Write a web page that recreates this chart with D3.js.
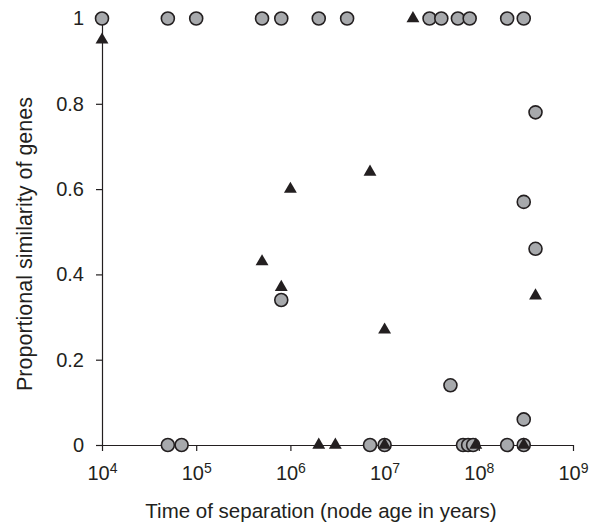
<!DOCTYPE html>
<html lang="en">
<head>
  <meta charset="UTF-8">
  <title>Proportional similarity of genes</title>
  <style>
    body { margin: 0; background: #fff; }
    text { font-family: "Liberation Sans", Arial, sans-serif; fill: #231f20; }
  </style>
</head>
<body>
  <svg id="chart" width="598" height="528"></svg>
  <script src="https://d3js.org/d3.v7.min.js"></script>
  <script>
    // Circles (grey) - node age in years, similarity
    const circleYears = [1e4, 5e4, 1e5, 5e5, 8e5, 2e6, 4e6, 3e7, 4e7, 6e7, 8e7, 2e8, 3e8,
      8e5, 5e7, 3e8, 3e8, 4e8, 4e8,
      5e4, 7e4, 7e6, 1e7, 6.8e7, 7.7e7, 8.7e7, 2e8, 3e8]
    const circleSim = [1, 1, 1, 1, 1, 1, 1, 1, 1, 1, 1, 1, 1,
      0.34, 0.14, 0.06, 0.57, 0.78, 0.46,
      0, 0, 0, 0, 0, 0, 0, 0, 0]

    // Triangles (black)
    const triangleYears = [1e4, 5e5, 8e5, 1e6, 7e6, 1e7, 2e7, 4e8,
      2e6, 3e6, 1e7, 9.3e7, 3e8]
    const triangleSim = [0.95, 0.43, 0.37, 0.60, 0.64, 0.27, 1, 0.35,
      0, 0, 0, 0, 0]

    const xTicks = [1e4, 1e5, 1e6, 1e7, 1e8, 1e9]
    const yTicks = [0, 0.2, 0.4, 0.6, 0.8, 1]

    const margin = { top: 18.5, right: 25, bottom: 83, left: 102 }
    const width = 598 - margin.left - margin.right
    const height = 528 - margin.top - margin.bottom
    const ink = '#231f20'

    const svg = d3.select('#chart')
    const g = svg.append('g').attr('transform', `translate(${margin.left}, ${margin.top})`)

    const x = d3.scaleLog().domain([1e4, 1e9]).range([0, width])
    const y = d3.scaleLinear().domain([0, 1]).range([height, 0])

    // X axis
    const xAxis = g.append('g')
      .attr('transform', `translate(0, ${height})`)
      .call(d3.axisBottom(x).tickValues(xTicks).tickSize(6).tickSizeOuter(0).tickPadding(15))
    xAxis.selectAll('text')
      .text(null)
      .attr('font-size', 20)
      .each(function (d) {
        const t = d3.select(this)
        t.append('tspan').text('10')
        t.append('tspan').text(Math.round(Math.log10(d)))
          .attr('font-size', 14).attr('dy', '-0.55em')
      })

    // Y axis
    const yAxis = g.append('g')
      .call(d3.axisLeft(y).tickValues(yTicks).tickSize(6).tickSizeOuter(0).tickPadding(12)
        .tickFormat(d => d === 0 || d === 1 ? d3.format('d')(d) : d3.format('.1f')(d)))
    yAxis.selectAll('text').attr('font-size', 20)

    svg.selectAll('.domain, .tick line').attr('stroke', ink).attr('stroke-width', 1.2)
    svg.selectAll('.tick text').attr('fill', ink)

    // Circles first, triangles on top
    const circles = circleYears.map((v, i) => ({ t: v, s: circleSim[i] }))
    const triangles = triangleYears.map((v, i) => ({ t: v, s: triangleSim[i] }))

    g.append('g')
      .selectAll('circle')
      .data(circles)
      .enter()
      .append('circle')
      .attr('cx', d => x(d.t))
      .attr('cy', d => y(d.s))
      .attr('r', 6.5)
      .attr('fill', '#a7a9ac')
      .attr('stroke', ink)
      .attr('stroke-width', 1.6)

    g.append('g')
      .selectAll('path')
      .data(triangles)
      .enter()
      .append('path')
      .attr('d', d3.symbol().type(d3.symbolTriangle).size(72))
      .attr('transform', d => `translate(${x(d.t)}, ${y(d.s)})`)
      .attr('fill', ink)

    // Axis titles
    svg.append('text')
      .attr('x', 321)
      .attr('y', 518)
      .attr('text-anchor', 'middle')
      .attr('font-size', 20.5)
      .text('Time of separation (node age in years)')

    svg.append('text')
      .attr('transform', `translate(32, 244) rotate(-90)`)
      .attr('text-anchor', 'middle')
      .attr('font-size', 21.5)
      .text('Proportional similarity of genes')
  </script>
</body>
</html>
